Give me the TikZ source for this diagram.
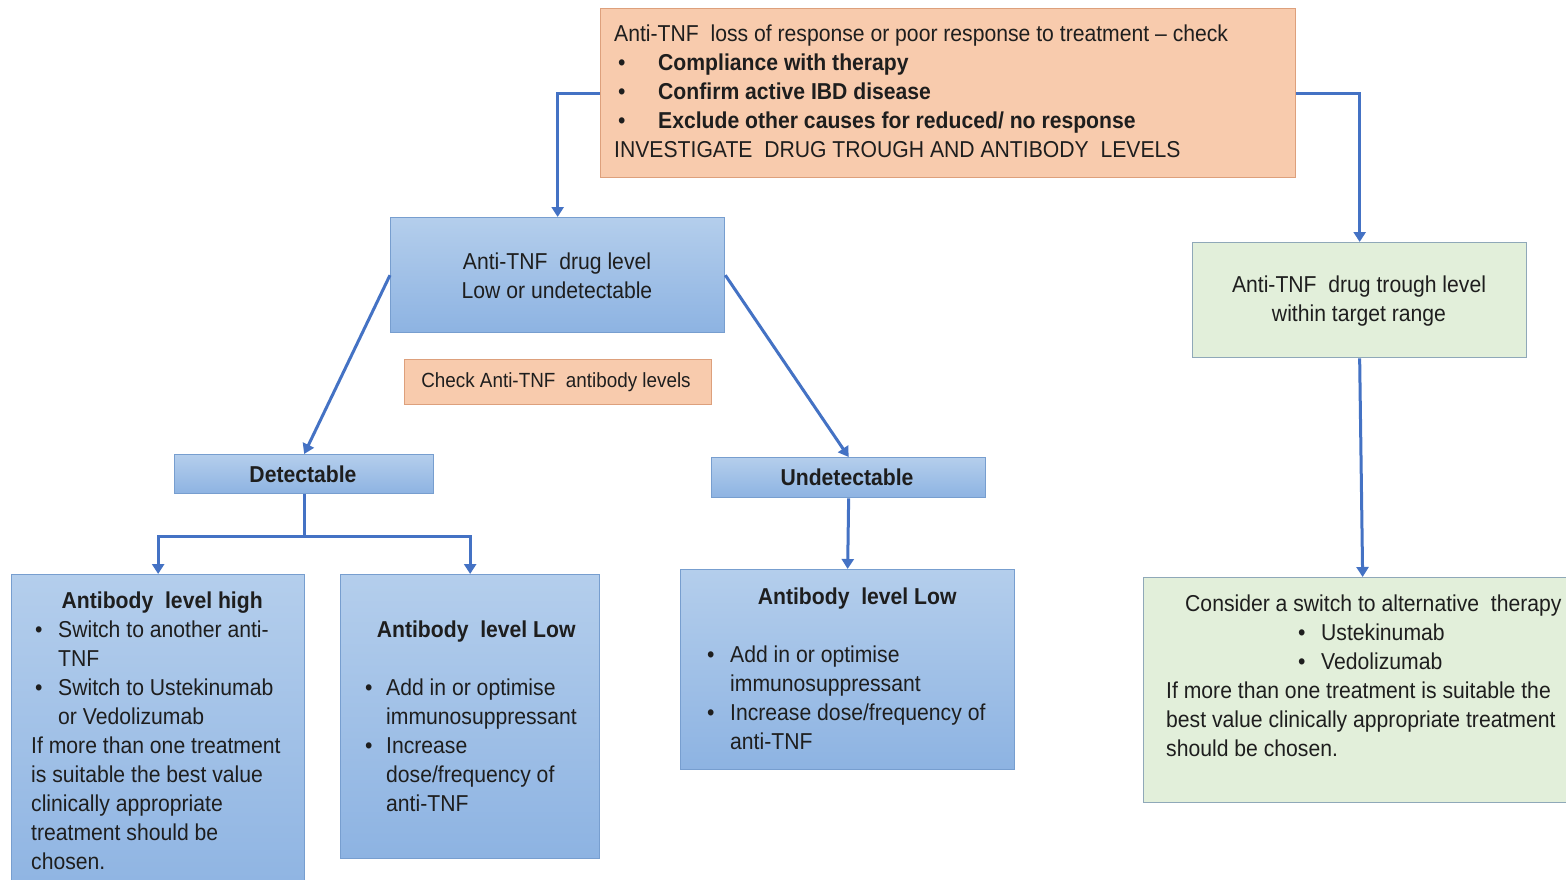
\documentclass[tikz,border=0pt]{standalone}
\usepackage{fontspec}
\setmainfont[FakeStretch=0.92]{Liberation Sans}
\usetikzlibrary{arrows.meta,calc}
\definecolor{peach}{HTML}{F8CBAD}
\definecolor{peachline}{HTML}{DDA07C}
\definecolor{bluetop}{HTML}{B4CEEC}
\definecolor{bluebot}{HTML}{8DB3E2}
\definecolor{blueline}{HTML}{779ECF}
\definecolor{greenfill}{HTML}{E2EFDA}
\definecolor{greenline}{HTML}{8FA8B8}
\definecolor{arrowc}{HTML}{4472C4}
\definecolor{txt}{HTML}{1E1E1E}
\begin{document}
\begin{tikzpicture}[x=1pt,y=-1pt,
 box/.style={draw, line width=1.3pt, inner sep=0pt, anchor=north west},
 peachbox/.style={box, draw=peachline, fill=peach},
 bluebox/.style={box, draw=blueline, top color=bluetop, bottom color=bluebot},
 greenbox/.style={box, draw=greenline, fill=greenfill},
 txtnode/.style={inner sep=0pt, text=txt, font=\fontsize{23}{29}\selectfont},
 conn/.style={draw=arrowc, line width=3pt, -{Triangle[width=12pt,length=10pt]}},
]
\useasboundingbox (0,0) rectangle (1566,880);
\clip (0,0) rectangle (1566,880);
\fill[white] (0,0) rectangle (1566,880);

% boxes
\node[peachbox, minimum width=695pt, minimum height=169pt] (top) at (600,8) {};
\node[bluebox, minimum width=334pt, minimum height=115pt] (B) at (390,217) {};
\node[peachbox, minimum width=307pt, minimum height=45pt] (chk) at (404,359) {};
\node[bluebox, minimum width=259pt, minimum height=39pt] (D) at (174,454) {};
\node[bluebox, minimum width=274pt, minimum height=40pt] (U) at (711,457) {};
\node[bluebox, minimum width=293pt, minimum height=330pt] (H) at (11,574) {};
\node[bluebox, minimum width=259pt, minimum height=284pt] (L1) at (340,574) {};
\node[bluebox, minimum width=334pt, minimum height=200pt] (L2) at (680,569) {};
\node[greenbox, minimum width=334pt, minimum height=115pt] (G1) at (1192,242) {};
\node[greenbox, minimum width=438pt, minimum height=225pt] (G2) at (1143,577) {};

% texts
\node[txtnode, anchor=north west, align=left] (toptext) at (614,25) {Anti-TNF\ \ loss of response or poor response to treatment -- check\\
\hspace*{4pt}\makebox[40pt][l]{•}\textbf{Compliance with therapy}\\
\hspace*{4pt}\makebox[40pt][l]{•}\textbf{Confirm active IBD disease}\\
\hspace*{4pt}\makebox[40pt][l]{•}\textbf{Exclude other causes for reduced/ no response}\\
INVESTIGATE\ \ DRUG TROUGH AND ANTIBODY\ \ LEVELS};

\node[txtnode, anchor=north, align=center] (Btext) at (557,253) {Anti-TNF\ \ drug level\\Low or undetectable};
\node[txtnode, anchor=center, font=\fontsize{20.5}{25}\selectfont] (chktext) at (556,382) {Check Anti-TNF\ \ antibody levels};
\node[txtnode, anchor=center] (Dtext) at (303,474) {\textbf{Detectable}};
\node[txtnode, anchor=center] (Utext) at (847,477) {\textbf{Undetectable}};

\node[txtnode, anchor=north west, align=left] (Htext) at (31,592) {\makebox[262pt][c]{\textbf{Antibody\ \ level high}}\\
\hspace*{4pt}\makebox[23pt][l]{•}Switch to another anti-\\
\hspace*{27pt}TNF\\
\hspace*{4pt}\makebox[23pt][l]{•}Switch to Ustekinumab\\
\hspace*{27pt}or Vedolizumab\\
If more than one treatment\\
is suitable the best value\\
clinically appropriate\\
treatment should be\\
chosen.};

\node[txtnode, anchor=north west, align=left] (L1text) at (360,621) {\makebox[232pt][c]{\textbf{Antibody\ \ level Low}}\\
\mbox{}\\
\hspace*{5pt}\makebox[21pt][l]{•}Add in or optimise\\
\hspace*{26pt}immunosuppressant\\
\hspace*{5pt}\makebox[21pt][l]{•}Increase\\
\hspace*{26pt}dose/frequency of\\
\hspace*{26pt}anti-TNF};

\node[txtnode, anchor=north west, align=left] (L2text) at (702,588) {\makebox[310pt][c]{\textbf{Antibody\ \ level Low}}\\
\mbox{}\\
\hspace*{5pt}\makebox[23pt][l]{•}Add in or optimise\\
\hspace*{28pt}immunosuppressant\\
\hspace*{5pt}\makebox[23pt][l]{•}Increase dose/frequency of\\
\hspace*{28pt}anti-TNF};

\node[txtnode, anchor=north, align=center] (G1text) at (1359,276) {Anti-TNF\ \ drug trough level\\within target range};

\node[txtnode, anchor=north west, align=left] (G2text) at (1166,595) {\hspace*{19pt}Consider a switch to alternative\ \ therapy\\
\hspace*{132pt}\makebox[23pt][l]{•}Ustekinumab\\
\hspace*{132pt}\makebox[23pt][l]{•}Vedolizumab\\
If more than one treatment is suitable the\\
best value clinically appropriate treatment\\
should be chosen.};

% connectors
\draw[conn] (top.west) -| (B.north);
\draw[conn] (top.east) -| (G1.north);
\draw[conn] (B.west) -- (D.north);
\draw[conn] (B.east) -- (U.north);
\coordinate (split) at ($(D.south)+(0,42)$);
\draw[conn] (D.south) -- (split) -| (H.north);
\draw[conn] (split) -| (L1.north);
\draw[conn] (U.south) -- (L2.north);
\draw[conn] (G1.south) -- (G2.north);
\end{tikzpicture}
\end{document}
